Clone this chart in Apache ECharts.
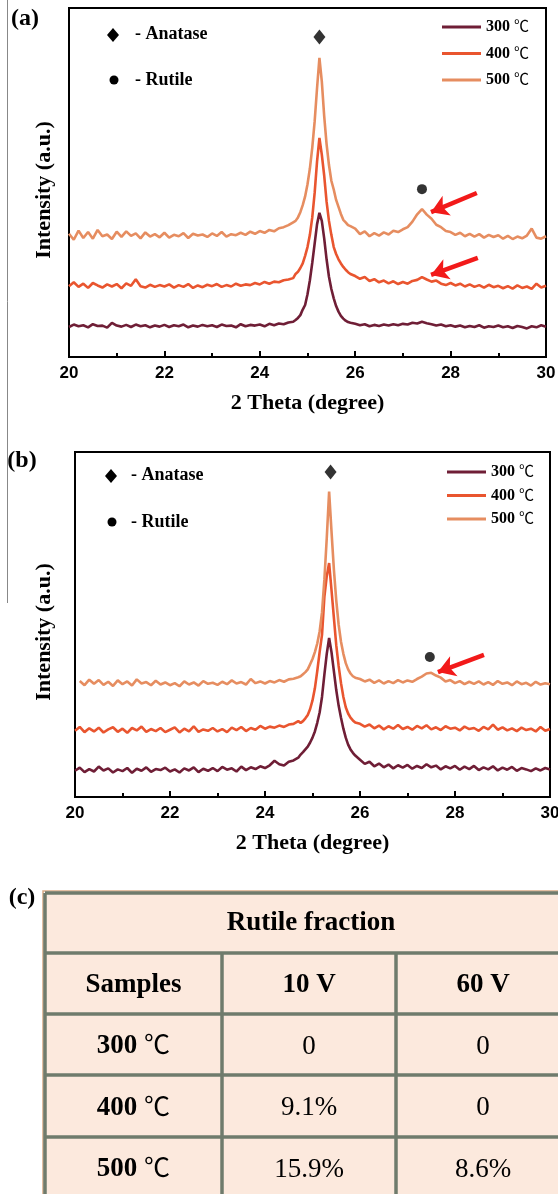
<!DOCTYPE html>
<html><head><meta charset="utf-8">
<script src="https://cdn.jsdelivr.net/npm/echarts@6.0.0/dist/echarts.min.js"></script>
<style>html,body{margin:0;padding:0;background:#fff}#chart{width:558px;height:1194px}</style>
</head><body><div id="chart"></div>
<script>
// ---- data ----
const twoTheta = [
 20.0,20.1,20.2,20.3,20.4,20.5,20.6,20.7,20.8,20.9,
 21.0,21.1,21.2,21.3,21.4,21.5,21.6,21.7,21.8,21.9,
 22.0,22.1,22.2,22.3,22.4,22.5,22.6,22.7,22.8,22.9,
 23.0,23.1,23.2,23.3,23.4,23.5,23.6,23.7,23.8,23.9,
 24.0,24.1,24.2,24.3,24.4,24.5,24.6,24.7,
 24.75,24.8,24.85,24.9,24.95,25.0,25.05,25.1,25.15,25.2,25.25,25.3,25.35,25.4,25.45,25.5,25.55,25.6,25.65,25.7,25.75,25.8,25.85,25.9,
 26.0,26.1,26.2,26.3,26.4,26.5,26.6,26.7,26.8,26.9,
 27.0,27.1,27.2,27.3,27.4,27.5,27.6,27.7,27.8,27.9,
 28.0,28.1,28.2,28.3,28.4,28.5,28.6,28.7,28.8,28.9,
 29.0,29.1,29.2,29.3,29.4,29.5,29.6,29.7,29.8,29.9,30.0
];
const seriesNames = ['300 ℃','400 ℃','500 ℃'];
// panel (a)
const panelA_300 = [
 8.6,9.3,8.8,9.1,8.5,9.4,8.9,9.0,8.4,9.8,
 9.0,8.7,9.2,8.6,9.3,8.8,9.1,8.5,9.0,8.7,
 9.2,8.6,9.1,8.8,9.3,8.5,9.0,8.7,9.2,8.8,
 9.1,8.6,9.3,8.9,9.0,8.5,9.4,8.8,9.2,9.0,
 9.3,8.8,9.5,9.1,9.6,9.4,9.9,10.1,
 10.6,11.2,12.0,13.6,14.9,18.0,22.0,27.0,32.5,38.0,41.3,39.0,34.0,28.0,23.0,19.5,16.8,14.6,13.0,11.8,11.0,10.4,10.0,9.8,
 9.5,9.1,9.4,8.8,9.2,8.9,9.3,9.0,9.4,9.1,
 9.5,9.3,9.8,9.6,10.1,9.7,9.4,9.0,9.3,8.8,
 9.1,8.7,9.0,8.5,8.9,8.6,9.1,8.4,8.8,8.6,
 9.0,8.5,8.8,8.3,8.9,8.6,8.2,8.8,8.5,9.1,8.7
];
const panelA_400 = [
 20.3,21.4,20.1,21.0,19.8,21.2,20.5,19.9,20.8,20.2,
 20.9,19.7,21.1,20.4,22.3,20.3,19.9,20.7,20.1,20.6,
 20.2,20.8,19.9,20.6,20.1,20.9,19.8,20.5,20.0,20.7,
 20.3,20.9,20.1,20.6,20.2,21.0,20.4,20.8,20.6,21.2,
 20.8,21.5,21.0,21.6,21.4,22.0,22.2,22.6,
 23.8,24.4,25.5,26.8,29.0,31.5,35.0,40.0,47.0,56.0,62.8,58.0,52.0,44.5,39.0,35.0,31.5,29.5,28.0,26.8,25.8,25.0,24.3,23.8,
 23.2,22.4,22.9,21.8,22.3,21.4,21.9,21.1,21.7,20.9,
 21.5,21.0,21.8,22.1,22.9,22.2,21.6,21.9,21.0,20.6,
 21.2,20.5,21.0,20.2,20.8,20.1,20.6,19.9,20.7,20.0,
 20.4,19.7,20.3,19.6,20.5,19.8,20.2,19.5,21.0,19.9,20.4
];
const panelA_500 = [
 35.3,33.6,36.2,34.1,35.8,33.9,36.4,34.6,35.1,33.8,
 35.9,34.4,36.0,34.7,35.4,34.0,35.7,34.5,35.2,34.3,
 35.6,34.2,35.0,34.6,35.5,34.1,35.3,34.8,35.1,34.4,
 35.4,34.7,35.8,34.5,35.2,34.9,35.6,35.0,35.9,35.3,
 36.1,35.6,36.4,36.0,36.9,37.2,37.8,38.6,
 39.0,40.0,41.5,43.5,46.0,49.5,54.0,60.0,67.5,77.0,85.7,79.0,69.0,61.0,55.0,50.5,48.0,45.0,43.0,41.0,39.3,38.6,37.8,37.5,
 36.8,35.2,36.0,34.6,35.5,34.8,35.7,35.1,36.2,35.8,
 36.6,37.2,38.8,40.9,42.4,40.8,39.6,37.9,37.2,36.1,
 35.8,35.0,35.6,34.6,35.3,34.5,35.2,34.2,35.0,34.4,
 34.9,33.9,34.7,33.8,34.5,34.0,34.8,36.8,34.2,33.9,34.6
];
// panel (b)
const panelB_300 = [
 7.6,8.5,7.2,8.1,7.4,8.8,7.7,8.3,7.1,8.0,
 7.5,8.4,7.0,8.2,7.6,8.6,7.3,8.1,7.8,8.5,
 7.4,8.0,7.1,8.3,7.7,8.6,7.2,8.2,7.6,8.4,
 7.5,8.7,7.9,8.3,7.4,8.8,7.8,8.6,8.1,8.9,
 8.4,9.2,10.5,9.5,9.1,10.2,10.6,11.4,
 12.3,13.0,13.8,14.6,15.8,17.2,19.0,21.5,24.5,29.0,35.5,41.5,46.1,42.0,36.5,31.0,26.5,23.0,19.8,17.2,15.2,13.8,12.8,12.0,
 10.8,9.6,10.2,8.9,9.7,8.6,9.4,8.3,9.2,8.5,
 9.3,8.2,9.0,8.4,9.5,8.6,9.1,8.0,8.9,8.3,
 9.0,7.9,8.8,8.1,9.0,7.8,8.6,8.0,8.9,7.7,
 8.5,7.9,8.7,7.6,8.4,8.0,7.5,8.3,7.7,8.4,8.0
];
const panelB_400 = [
 19.2,20.3,18.8,19.9,19.0,20.1,18.7,19.6,20.2,18.9,
 19.8,18.6,20.0,19.3,20.4,18.9,19.7,19.1,20.0,18.8,
 19.5,20.2,18.7,19.8,19.0,20.5,18.9,19.6,19.2,20.0,
 19.0,19.7,18.8,20.1,19.4,20.3,19.1,20.0,19.5,20.6,
 19.8,20.4,20.1,20.7,20.3,21.0,21.2,22.0,
 21.5,22.0,22.8,23.8,25.5,28.0,31.5,36.5,42.0,47.0,58.0,64.0,67.8,60.0,52.0,44.0,38.0,33.0,29.0,26.0,24.2,23.0,22.2,21.6,
 21.2,20.4,21.0,19.9,20.7,19.6,20.5,19.8,20.9,19.7,
 20.3,19.5,20.6,19.9,20.8,19.6,20.2,19.4,20.5,19.8,
 20.1,19.3,20.4,19.7,20.0,19.2,20.3,19.6,21.0,19.5,
 20.2,19.3,19.9,19.1,20.1,19.4,19.8,19.0,20.3,19.2,19.7
];
const panelB_500 = [
 null,33.6,32.4,34.0,32.8,33.9,32.5,33.4,32.2,33.8,
 32.7,33.5,32.3,34.1,32.9,33.3,32.4,33.7,32.6,33.2,
 32.4,33.0,32.1,33.5,32.6,33.2,32.3,33.6,32.8,33.1,
 32.5,33.4,32.7,33.8,32.9,33.3,32.6,34.2,33.0,33.5,
 32.9,33.6,33.2,33.9,33.4,34.1,34.3,34.7,
 35.0,35.6,36.2,37.0,38.5,40.0,42.0,44.5,48.0,53.5,63.0,75.0,88.5,77.0,66.0,57.0,50.0,45.0,41.5,38.8,37.0,35.8,35.0,34.6,
 34.2,33.5,34.0,33.1,33.8,32.9,33.6,33.0,33.9,33.2,
 33.8,33.4,34.2,34.9,35.8,36.0,35.2,34.6,33.5,33.9,
 33.0,33.6,32.7,33.4,32.8,33.5,32.6,33.3,32.5,33.6,
 32.8,33.2,32.4,33.5,32.7,33.1,32.3,33.4,32.6,33.0,32.7
];
// peak markers and arrows (2θ, intensity)
const anatasePeakA = [25.25, 91.7];
const rutilePeakA  = [27.40, 48.1];
const anatasePeakB = [25.38, 94.2];
const rutilePeakB  = [27.47, 40.6];
const arrowsA = [[28.55, 47.0, 27.59, 41.5], [28.57, 28.4, 27.59, 23.5]];
const arrowsB = [[28.61, 41.2, 27.64, 36.2]];
// table (c)
const tableTitle = 'Rutile fraction';
const tableHeader = ['Samples', '10 V', '60 V'];
const tableSamples = ['300 ℃', '400 ℃', '500 ℃'];
const fraction10V = ['0', '9.1%', '15.9%'];
const fraction60V = ['0', '0', '8.6%'];

// ---- styles ----
const colors = ['#6f1e36', '#e9552f', '#e68d60'];
const SERIF = "'Liberation Serif','Noto Sans CJK SC',serif";
const CJK = "'Noto Sans CJK SC','DejaVu Sans',sans-serif";
const pairs = (ys) => twoTheta.map((x, i) => [x, ys[i]]);
// split "300 ℃" into number part (bold serif) and unit (thin CJK glyph)
const richLabel = (s) => '{n|' + s.replace(' ℃', ' ') + '}{u|℃}';

function xAxisFor(gi) {
  return {
    type: 'value', gridIndex: gi, min: 20, max: 30, interval: 2,
    axisLine: {show: true, onZero: false, lineStyle: {color: '#000', width: 2}},
    axisTick: {show: true, inside: true, length: 6, lineStyle: {color: '#000', width: 2}},
    minorTick: {show: true, splitNumber: 2, length: 4, lineStyle: {color: '#000', width: 2}},
    splitLine: {show: false}, minorSplitLine: {show: false},
    axisLabel: {color: '#000', fontFamily: "'Liberation Sans',Arial,sans-serif", fontWeight: 'bold', fontSize: 17, margin: 8},
    name: '2 Theta (degree)', nameLocation: 'middle', nameGap: 35,
    nameTextStyle: {color: '#000', fontFamily: SERIF, fontWeight: 'bold', fontSize: 22}
  };
}
function yAxisFor(gi) {
  return {
    type: 'value', gridIndex: gi, min: 0, max: 100,
    axisLine: {show: true, lineStyle: {color: '#000', width: 2}},
    axisTick: {show: false}, axisLabel: {show: false}, splitLine: {show: false}
  };
}
function lineSeries(gi, idx, ys, arrows) {
  const s = {
    type: 'line', name: seriesNames[idx], xAxisIndex: gi, yAxisIndex: gi,
    data: pairs(ys), showSymbol: false, symbol: 'none', connectNulls: false,
    lineStyle: {color: colors[idx], width: 2.6}, itemStyle: {color: colors[idx]},
    emphasis: {disabled: true}, silent: true, z: 2 + idx
  };
  if (arrows) {
    s.markLine = {
      silent: true, symbol: ['none', 'arrow'], symbolSize: [16, 17],
      label: {show: false}, emphasis: {disabled: true},
      lineStyle: {color: '#f21a1a', width: 4.5, type: 'solid'},
      data: arrows.map(a => [{coord: [a[0], a[1]]}, {coord: [a[2], a[3]]}])
    };
  }
  return s;
}
function markerSeries(gi, pt, sym, size) {
  return {type: 'scatter', xAxisIndex: gi, yAxisIndex: gi, data: [pt], symbol: sym,
    symbolSize: size, itemStyle: {color: '#000'}, silent: true, z: 6};
}
function legendFor(left, top, gap) {
  return {data: seriesNames, orient: 'vertical', left: left, top: top, itemWidth: 39, itemHeight: 3,
    itemGap: gap, icon: 'rect', selectedMode: false,
    formatter: richLabel,
    textStyle: {color: '#000', fontFamily: SERIF, fontWeight: 'bold', fontSize: 16,
      rich: {n: {fontFamily: SERIF, fontWeight: 'bold', fontSize: 16, color: '#000'},
             u: {fontFamily: CJK, fontWeight: 'normal', fontSize: 15, color: '#000', padding: [0, 0, 3, 0]}}}};
}

// ---- graphics: labels, keys, table ----
const g = [];
const txt = (text, x, y, font, opt) => Object.assign({type: 'text', x: x, y: y, silent: true,
  style: {text: text, font: font, fill: '#000', align: 'center', verticalAlign: 'middle'}}, opt || {});
g.push({type: 'line', silent: true, shape: {x1: 7.5, y1: 0, x2: 7.5, y2: 603}, style: {stroke: '#888', lineWidth: 1}});
g.push(txt('(a)', 25, 19, 'bold 24px ' + SERIF));
g.push(txt('(b)', 22, 461, 'bold 24px ' + SERIF));
g.push(txt('(c)', 22, 898, 'bold 24px ' + SERIF));
g.push(txt('Intensity (a.u.)', 44, 190, 'bold 22px ' + SERIF, {rotation: Math.PI / 2}));
g.push(txt('Intensity (a.u.)', 44, 632, 'bold 22px ' + SERIF, {rotation: Math.PI / 2}));
function keys(dx, dy, tx, ry) {
  g.push({type: 'polygon', silent: true, shape: {points: [[dx, dy - 7], [dx + 6, dy], [dx, dy + 7], [dx - 6, dy]]}, style: {fill: '#000'}});
  g.push({type: 'text', x: tx, y: dy - 1, silent: true, style: {text: '- Anatase', font: 'bold 18px ' + SERIF, fill: '#000', align: 'left', verticalAlign: 'middle'}});
  g.push({type: 'circle', silent: true, shape: {cx: dx + 1, cy: ry, r: 4.5}, style: {fill: '#000'}});
  g.push({type: 'text', x: tx, y: ry, silent: true, style: {text: '- Rutile', font: 'bold 18px ' + SERIF, fill: '#000', align: 'left', verticalAlign: 'middle'}});
}
keys(113, 35, 135, 80);
keys(111, 476, 131, 522);
// table
const tX = [45, 222, 396, 570], tY = [893, 953, 1014, 1075, 1137, 1198];
g.push({type: 'rect', silent: true, shape: {x: tX[0], y: tY[0], width: tX[3] - tX[0], height: tY[5] - tY[0]}, style: {fill: '#fce9dd'}});
g.push({type: 'rect', silent: true, shape: {x: tX[0] - 2, y: tY[0] - 2, width: tX[3] - tX[0] + 4, height: tY[5] - tY[0] + 4}, style: {fill: 'none', stroke: '#d9ab85', lineWidth: 1.5}});
const border = {stroke: '#6f7b6c', lineWidth: 3.5};
tY.forEach(y => g.push({type: 'line', silent: true, shape: {x1: tX[0], y1: y, x2: tX[3], y2: y}, style: border}));
[tX[0], tX[3]].forEach(x => g.push({type: 'line', silent: true, shape: {x1: x, y1: tY[0], x2: x, y2: tY[5]}, style: border}));
[tX[1], tX[2]].forEach(x => g.push({type: 'line', silent: true, shape: {x1: x, y1: tY[1], x2: x, y2: tY[5]}, style: border}));
const cx = [0, 1, 2].map(i => (tX[i] + tX[i + 1]) / 2);
const cy = [0, 1, 2, 3, 4].map(i => (tY[i] + tY[i + 1]) / 2);
g.push(txt(tableTitle, 311, cy[0], 'bold 27px ' + SERIF));
tableHeader.forEach((h, i) => g.push(txt(h, cx[i], cy[1] + 2, 'bold 27px ' + SERIF)));
tableSamples.forEach((s, r) => {
  g.push({type: 'text', x: cx[0], y: cy[r + 2] + 2, silent: true, style: {
    text: richLabel(s), align: 'center', verticalAlign: 'middle', fill: '#000',
    rich: {n: {fontFamily: SERIF, fontWeight: 'bold', fontSize: 27, fill: '#000'},
           u: {fontFamily: CJK, fontWeight: 'normal', fontSize: 26, fill: '#000', padding: [0, 0, 4, 0]}}}});
  g.push(txt(fraction10V[r], cx[1], cy[r + 2] + 2, '27px ' + SERIF));
  g.push(txt(fraction60V[r], cx[2], cy[r + 2] + 2, '27px ' + SERIF));
});

const option = {
  animation: false,
  backgroundColor: '#fff',
  grid: [
    {left: 69, top: 8, width: 477, height: 349, show: true, borderColor: '#000', borderWidth: 2, backgroundColor: 'transparent', outerBoundsMode: 'none'},
    {left: 75, top: 452, width: 475, height: 345, show: true, borderColor: '#000', borderWidth: 2, backgroundColor: 'transparent', outerBoundsMode: 'none'}
  ],
  xAxis: [xAxisFor(0), xAxisFor(1)],
  yAxis: [yAxisFor(0), yAxisFor(1)],
  legend: [legendFor(437, 13, 9.5), legendFor(442, 458, 6.5)],
  series: [
    lineSeries(0, 0, panelA_300), lineSeries(0, 1, panelA_400), lineSeries(0, 2, panelA_500, arrowsA),
    lineSeries(1, 0, panelB_300), lineSeries(1, 1, panelB_400), lineSeries(1, 2, panelB_500, arrowsB),
    markerSeries(0, anatasePeakA, 'diamond', [12, 15]), markerSeries(0, rutilePeakA, 'circle', 10),
    markerSeries(1, anatasePeakB, 'diamond', [12, 15]), markerSeries(1, rutilePeakB, 'circle', 10)
  ],
  graphic: g
};
const chart = echarts.init(document.getElementById('chart'), null, {renderer: 'canvas'});
chart.setOption(option);
</script>
</body></html>
